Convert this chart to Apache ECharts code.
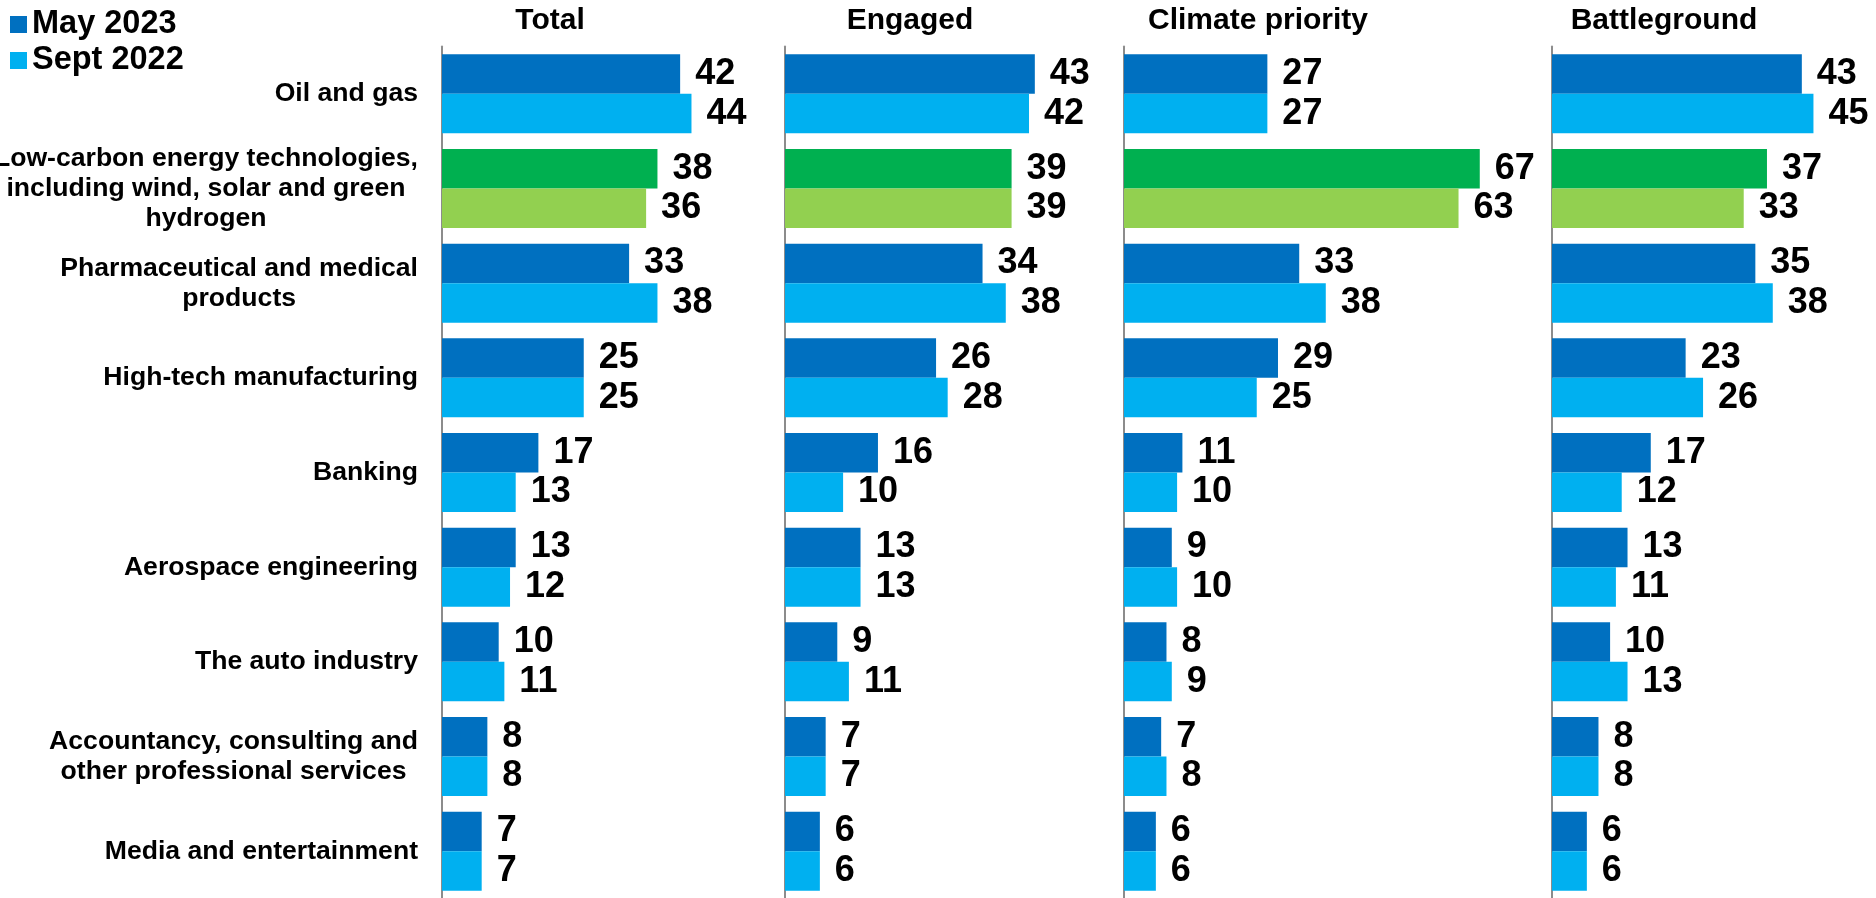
<!DOCTYPE html>
<html>
<head>
<meta charset="utf-8">
<script src="https://cdn.jsdelivr.net/npm/echarts@6/dist/echarts.min.js"></script>
<style>
html,body{margin:0;padding:0;background:#fff;}
#chart{width:1876px;height:898px;}
</style>
</head>
<body>
<div id="chart"></div>
<script>
// ---- data ----
const categories = [
  'Oil and gas',
  'Low-carbon energy technologies,\nincluding wind, solar and green\nhydrogen',
  'Pharmaceutical and medical\nproducts',
  'High-tech manufacturing',
  'Banking',
  'Aerospace engineering',
  'The auto industry',
  'Accountancy, consulting and\nother professional services',
  'Media and entertainment'
];
const panelTitles = ['Total', 'Engaged', 'Climate priority', 'Battleground'];
const seriesNames = ['May 2023', 'Sept 2022'];
const highlightCategory = 1;

const totalMay      = [42, 38, 33, 25, 17, 13, 10, 8, 7];
const totalSept     = [44, 36, 38, 25, 13, 12, 11, 8, 7];
const engagedMay    = [43, 39, 34, 26, 16, 13, 9, 7, 6];
const engagedSept   = [42, 39, 38, 28, 10, 13, 11, 7, 6];
const climateMay    = [27, 67, 33, 29, 11, 9, 8, 7, 6];
const climateSept   = [27, 63, 38, 25, 10, 10, 9, 8, 6];
const battleMay     = [43, 37, 35, 23, 17, 13, 10, 8, 6];
const battleSept    = [45, 33, 38, 26, 12, 11, 13, 8, 6];

const panelData = [
  [totalMay, totalSept],
  [engagedMay, engagedSept],
  [climateMay, climateSept],
  [battleMay, battleSept]
];

// ---- layout / style ----
const FONT = 'Arial, "Liberation Sans", sans-serif';
const baseColors = ['#0070C0', '#00B0F0'];
const highlightColors = ['#00B050', '#92D050'];
const panelLeft = [442, 785, 1124, 1552];
const panelMax = [60, 60, 70, 50];
const panelScale = [5.67, 5.81, 5.31, 5.81];
const titleCenter = [550, 910, 1258, 1664];
const gridTop = 46.5;
const gridHeight = 852;

const grids = [], xAxes = [], yAxes = [], series = [], titles = [];
panelTitles.forEach((t, p) => {
  grids.push({
    left: panelLeft[p], top: gridTop,
    width: panelMax[p] * panelScale[p], height: gridHeight,
    containLabel: false, outerBoundsMode: 'none'
  });
  xAxes.push({
    type: 'value', gridIndex: p, min: 0, max: panelMax[p], show: false,
    splitLine: {show: false}
  });
  yAxes.push({
    type: 'category', gridIndex: p, data: categories, inverse: true,
    axisLine: {show: true, lineStyle: {color: '#8c8c8c', width: 2}},
    axisTick: {show: false},
    splitLine: {show: false},
    axisLabel: {
      show: p === 0,
      margin: 24,
      align: 'right',
      interval: 0,
      formatter: v => v.split('\n').map(l => '{c|' + l + '}').join('\n'),
      rich: {
        c: {fontFamily: FONT, fontSize: 26.6, fontWeight: 'bold', color: '#000',
            lineHeight: 30, align: 'center'}
      }
    }
  });
  titles.push({
    text: t, left: titleCenter[p], top: 6, padding: 0, textAlign: 'center',
    textStyle: {fontFamily: FONT, fontSize: 30, fontWeight: 'bold', color: '#000'}
  });
  panelData[p].forEach((vals, s) => {
    series.push({
      name: seriesNames[s],
      type: 'bar',
      xAxisIndex: p, yAxisIndex: p,
      barWidth: 39.5,
      barGap: '0%',
      itemStyle: {color: baseColors[s]},
      data: vals.map((v, i) => i === highlightCategory
        ? {value: v, itemStyle: {color: highlightColors[s]}}
        : v),
      label: {
        show: true, position: 'right', distance: 15,
        fontFamily: FONT, fontSize: 36, fontWeight: 'bold', color: '#000'
      }
    });
  });
});

const chart = echarts.init(document.getElementById('chart'), null, {renderer: 'canvas'});
chart.setOption({
  animation: false,
  backgroundColor: '#fff',
  title: titles,
  legend: {
    data: seriesNames,
    orient: 'vertical',
    left: 10, top: 8, padding: 0,
    itemWidth: 17, itemHeight: 17, itemGap: 3,
    icon: 'rect',
    textStyle: {fontFamily: FONT, fontSize: 32.5, fontWeight: 'bold', color: '#000'}
  },
  grid: grids,
  xAxis: xAxes,
  yAxis: yAxes,
  series: series
});
</script>
</body>
</html>
